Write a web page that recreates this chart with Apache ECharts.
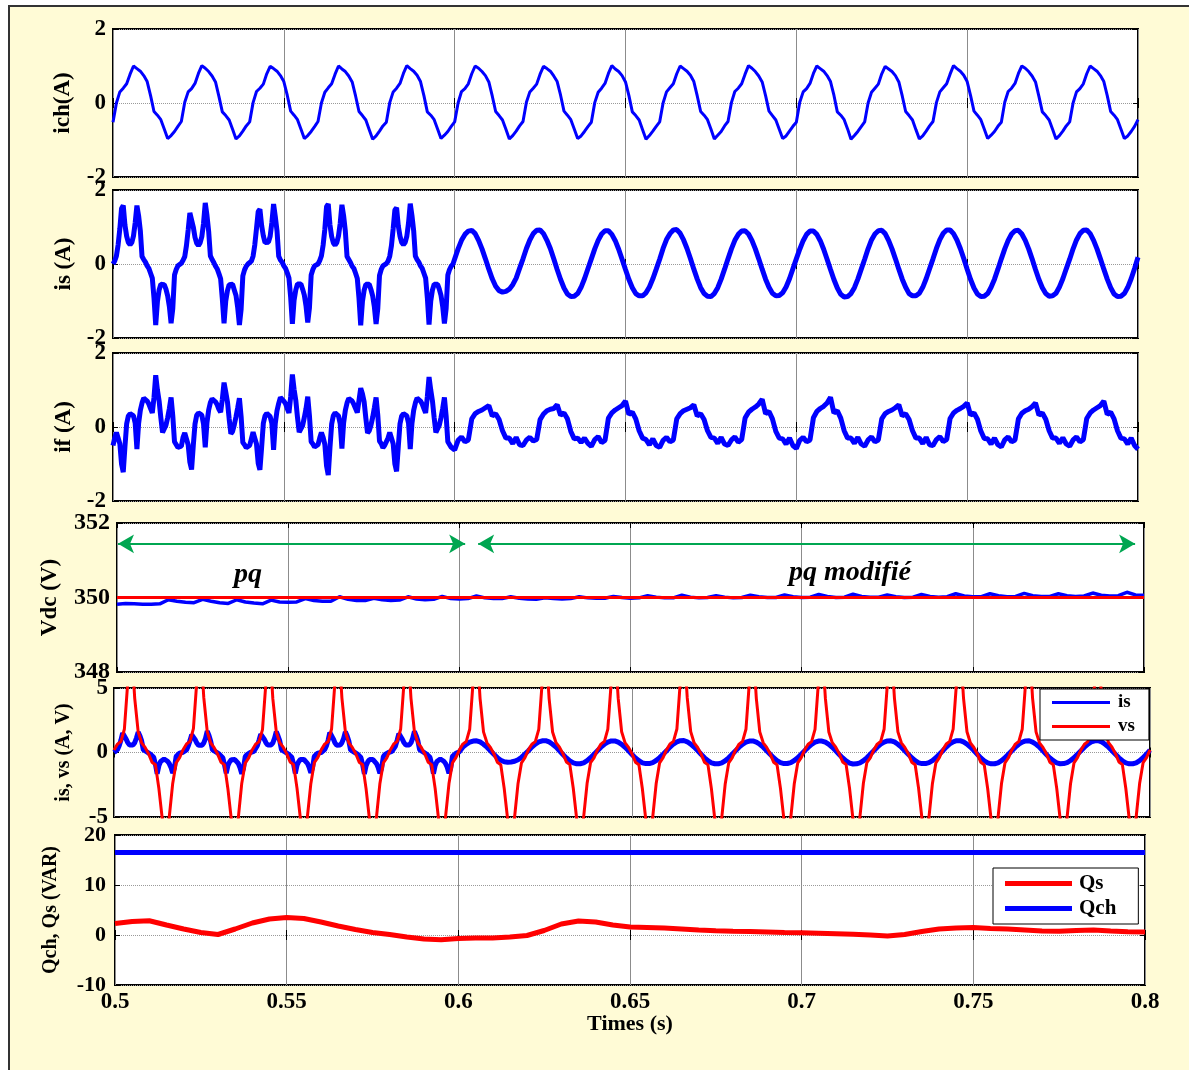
<!DOCTYPE html>
<html>
<head>
<meta charset="utf-8">
<script src="https://cdn.jsdelivr.net/npm/echarts@6/dist/echarts.min.js"></script>
<style>
html,body{margin:0;padding:0;background:#fff;overflow:hidden;width:1189px;height:1070px;}
#frame{position:absolute;left:8px;top:5px;width:1220px;height:1120px;background:#FFFBD6;border:2px solid #333;box-sizing:border-box;}
#chart{position:absolute;left:0;top:0;width:1189px;height:1070px;}
</style>
</head>
<body>
<div id="frame"></div>
<div id="chart"></div>
<script>
// ---------------- DATA ----------------
const timeTicks = [0.5, 0.55, 0.6, 0.65, 0.7, 0.75, 0.8];
const ticksIch = [-2, 0, 2];
const ticksIs = [-2, 0, 2];
const ticksIf = [-2, 0, 2];
const ticksVdc = [348, 350, 352];
const ticksIsVs = [-5, 0, 5];
const ticksQ = [-10, 0, 10, 20];

// load current ich, t = 0.5 .. 0.8 step 0.001
const ich = [
-0.52,0.00,0.30,0.40,0.52,0.78,1.00,0.93,0.86,0.74,0.58,0.20,-0.23,-0.33,-0.45,-0.70,-0.96,-0.88,-0.77,-0.63,
-0.50,0.02,0.30,0.39,0.53,0.80,1.01,0.94,0.85,0.73,0.57,0.18,-0.24,-0.34,-0.46,-0.71,-0.97,-0.89,-0.76,-0.62,
-0.51,0.01,0.31,0.40,0.51,0.79,0.99,0.93,0.86,0.74,0.58,0.21,-0.22,-0.33,-0.45,-0.70,-0.96,-0.88,-0.77,-0.64,
-0.50,0.00,0.29,0.41,0.52,0.78,1.00,0.92,0.85,0.73,0.57,0.19,-0.23,-0.34,-0.46,-0.72,-0.98,-0.89,-0.76,-0.62,
-0.52,0.01,0.30,0.40,0.53,0.80,1.01,0.93,0.86,0.75,0.58,0.20,-0.24,-0.33,-0.45,-0.70,-0.96,-0.87,-0.77,-0.63,
-0.51,0.00,0.31,0.39,0.52,0.79,1.00,0.94,0.85,0.74,0.57,0.19,-0.23,-0.34,-0.46,-0.71,-0.97,-0.88,-0.76,-0.62,
-0.50,0.02,0.30,0.40,0.51,0.78,0.99,0.93,0.86,0.73,0.58,0.21,-0.22,-0.33,-0.45,-0.70,-0.96,-0.89,-0.77,-0.64,
-0.52,0.01,0.29,0.40,0.53,0.80,1.01,0.92,0.85,0.74,0.57,0.20,-0.24,-0.34,-0.46,-0.72,-0.98,-0.88,-0.76,-0.63,
-0.51,0.00,0.30,0.41,0.52,0.79,1.00,0.93,0.86,0.75,0.58,0.19,-0.23,-0.33,-0.45,-0.70,-0.97,-0.87,-0.77,-0.62,
-0.50,0.01,0.31,0.40,0.52,0.78,1.01,0.94,0.85,0.73,0.57,0.20,-0.22,-0.34,-0.46,-0.71,-0.96,-0.89,-0.76,-0.63,
-0.52,0.02,0.30,0.39,0.53,0.80,1.00,0.93,0.86,0.74,0.58,0.21,-0.24,-0.33,-0.45,-0.70,-0.98,-0.88,-0.77,-0.64,
-0.51,0.00,0.29,0.40,0.51,0.79,0.99,0.92,0.85,0.74,0.57,0.19,-0.23,-0.34,-0.46,-0.72,-0.97,-0.89,-0.76,-0.62,
-0.50,0.01,0.30,0.41,0.52,0.78,1.01,0.93,0.86,0.75,0.58,0.20,-0.22,-0.33,-0.45,-0.70,-0.96,-0.87,-0.77,-0.63,
-0.52,0.02,0.31,0.40,0.53,0.80,1.00,0.94,0.85,0.73,0.57,0.18,-0.24,-0.34,-0.46,-0.71,-0.97,-0.88,-0.76,-0.62,
-0.51,0.00,0.30,0.39,0.52,0.79,1.00,0.93,0.86,0.74,0.58,0.20,-0.23,-0.33,-0.45,-0.70,-0.96,-0.89,-0.77,-0.63,
-0.45];

// source current is, "pq" part, t = 0.5 .. 0.6 step 0.0005
const isPq = [
0.00,0.08,0.22,0.52,0.95,1.50,1.58,1.05,0.75,0.58,0.52,0.58,0.76,1.12,1.58,1.30,0.90,0.20,0.12,0.05,
-0.05,-0.12,-0.25,-0.38,-0.92,-1.65,-1.02,-0.70,-0.55,-0.50,-0.56,-0.68,-0.86,-1.15,-1.60,-1.20,-0.30,-0.15,-0.05,0.00,
0.02,0.10,0.20,0.50,0.92,1.38,1.42,1.00,0.72,0.56,0.50,0.57,0.74,1.10,1.65,1.32,0.88,0.22,0.12,0.04,
-0.06,-0.13,-0.26,-0.40,-0.95,-1.60,-1.00,-0.72,-0.56,-0.52,-0.55,-0.70,-0.85,-1.18,-1.65,-1.22,-0.32,-0.16,-0.06,0.00,
0.01,0.08,0.21,0.52,0.96,1.42,1.48,1.04,0.76,0.58,0.53,0.59,0.75,1.12,1.62,1.28,0.90,0.21,0.11,0.05,
-0.05,-0.12,-0.24,-0.38,-0.90,-1.62,-0.98,-0.70,-0.54,-0.50,-0.54,-0.68,-0.84,-1.14,-1.58,-1.18,-0.30,-0.15,-0.05,-0.01,
0.00,0.09,0.22,0.51,0.94,1.55,1.62,1.06,0.74,0.57,0.51,0.58,0.76,1.10,1.60,1.30,0.89,0.20,0.12,0.04,
-0.06,-0.12,-0.25,-0.39,-0.93,-1.66,-1.02,-0.71,-0.55,-0.51,-0.55,-0.69,-0.86,-1.16,-1.62,-1.20,-0.31,-0.15,-0.05,0.00,
0.01,0.08,0.21,0.50,0.95,1.46,1.52,1.03,0.75,0.58,0.52,0.58,0.75,1.11,1.63,1.31,0.90,0.21,0.12,0.05,
-0.05,-0.12,-0.25,-0.38,-0.91,-1.64,-1.00,-0.70,-0.55,-0.50,-0.55,-0.68,-0.85,-1.15,-1.61,-1.21,-0.30,-0.15,-0.06,0.00,
0.05];

// source current is, "pq modifié" part, t = 0.601 .. 0.8 step 0.001
const isPqm = [
0.41,0.64,0.80,0.89,0.91,0.82,0.64,0.41,0.14,-0.14,-0.40,-0.60,-0.72,-0.76,-0.74,-0.68,-0.56,-0.38,-0.12,0.14,
0.42,0.65,0.82,0.91,0.92,0.82,0.64,0.42,0.14,-0.15,-0.42,-0.65,-0.81,-0.88,-0.87,-0.80,-0.63,-0.40,-0.13,0.14,
0.41,0.64,0.81,0.90,0.90,0.80,0.63,0.40,0.13,-0.15,-0.42,-0.64,-0.80,-0.86,-0.86,-0.78,-0.62,-0.40,-0.14,0.13,
0.42,0.66,0.82,0.92,0.93,0.83,0.65,0.42,0.15,-0.14,-0.41,-0.64,-0.80,-0.87,-0.88,-0.80,-0.64,-0.41,-0.14,0.14,
0.41,0.64,0.80,0.89,0.90,0.81,0.64,0.41,0.14,-0.14,-0.41,-0.63,-0.79,-0.86,-0.85,-0.78,-0.62,-0.40,-0.13,0.14,
0.40,0.63,0.80,0.89,0.89,0.80,0.63,0.40,0.13,-0.15,-0.42,-0.65,-0.82,-0.89,-0.88,-0.80,-0.64,-0.41,-0.14,0.13,
0.41,0.65,0.81,0.90,0.91,0.82,0.64,0.41,0.14,-0.14,-0.41,-0.63,-0.80,-0.86,-0.86,-0.79,-0.63,-0.40,-0.13,0.14,
0.42,0.66,0.83,0.92,0.92,0.82,0.65,0.42,0.15,-0.14,-0.42,-0.65,-0.81,-0.88,-0.87,-0.80,-0.63,-0.41,-0.14,0.14,
0.41,0.64,0.81,0.90,0.91,0.81,0.64,0.41,0.14,-0.15,-0.42,-0.64,-0.80,-0.87,-0.86,-0.79,-0.62,-0.40,-0.13,0.13,
0.41,0.65,0.82,0.91,0.92,0.82,0.64,0.41,0.14,-0.14,-0.41,-0.64,-0.81,-0.88,-0.87,-0.80,-0.63,-0.40,-0.12,0.18];

// filter current if, "pq" part, t = 0.5 .. 0.6 step 0.0005
const ifPq = [
-0.50,-0.30,-0.15,-0.30,-0.45,-1.00,-1.22,-0.53,0.09,0.30,0.36,0.40,0.30,0.10,-0.60,0.10,0.45,0.65,0.78,0.75,
0.70,0.62,0.50,0.38,0.80,1.40,1.00,0.70,0.25,-0.15,-0.10,0.05,0.25,0.50,0.80,0.30,-0.40,-0.45,-0.55,-0.50,
-0.52,-0.28,-0.16,-0.32,-0.48,-0.95,-1.15,-0.50,0.08,0.32,0.38,0.42,0.32,0.08,-0.55,0.12,0.46,0.66,0.76,0.74,
0.68,0.60,0.48,0.40,0.75,1.20,0.95,0.68,0.22,-0.18,-0.12,0.06,0.28,0.52,0.78,0.28,-0.42,-0.48,-0.56,-0.52,
-0.50,-0.32,-0.14,-0.30,-0.46,-0.98,-1.16,-0.55,0.10,0.30,0.37,0.40,0.28,0.10,-0.62,0.10,0.44,0.64,0.80,0.76,
0.70,0.63,0.50,0.38,0.82,1.42,1.02,0.72,0.26,-0.14,-0.10,0.04,0.26,0.50,0.82,0.30,-0.40,-0.46,-0.54,-0.50,
-0.48,-0.30,-0.15,-0.28,-0.47,-1.05,-1.30,-0.56,0.08,0.31,0.38,0.41,0.30,0.09,-0.58,0.11,0.45,0.65,0.77,0.75,
0.70,0.61,0.50,0.39,0.72,1.05,0.90,0.68,0.24,-0.16,-0.10,0.05,0.26,0.52,0.80,0.32,-0.38,-0.45,-0.56,-0.50,
-0.50,-0.30,-0.15,-0.30,-0.45,-1.00,-1.20,-0.53,0.09,0.30,0.36,0.40,0.30,0.10,-0.60,0.10,0.45,0.65,0.78,0.75,
0.70,0.62,0.50,0.38,0.82,1.35,1.00,0.70,0.25,-0.15,-0.10,0.05,0.25,0.50,0.80,0.30,-0.40,-0.45,-0.55,-0.52,
-0.62];

// filter current if, "pq modifié" part, t = 0.601 .. 0.8 step 0.001
const ifPqm = [
-0.36,-0.27,-0.40,-0.35,0.22,0.36,0.42,0.46,0.52,0.58,0.30,0.36,0.20,-0.10,-0.30,-0.30,-0.45,-0.28,-0.48,-0.50,
-0.35,-0.28,-0.38,-0.34,0.20,0.35,0.44,0.48,0.50,0.60,0.32,0.38,0.22,-0.12,-0.32,-0.30,-0.42,-0.30,-0.44,-0.52,
-0.34,-0.26,-0.42,-0.36,0.24,0.38,0.46,0.52,0.58,0.70,0.34,0.40,0.22,-0.10,-0.30,-0.34,-0.48,-0.32,-0.50,-0.55,
-0.36,-0.28,-0.40,-0.35,0.22,0.36,0.44,0.48,0.52,0.60,0.30,0.36,0.20,-0.10,-0.28,-0.30,-0.44,-0.28,-0.46,-0.50,
-0.35,-0.27,-0.41,-0.34,0.24,0.40,0.48,0.54,0.62,0.75,0.36,0.42,0.22,-0.12,-0.30,-0.32,-0.46,-0.30,-0.50,-0.58,
-0.36,-0.28,-0.40,-0.35,0.25,0.42,0.50,0.56,0.65,0.80,0.38,0.44,0.24,-0.10,-0.30,-0.30,-0.44,-0.28,-0.46,-0.52,
-0.35,-0.27,-0.40,-0.35,0.22,0.36,0.42,0.46,0.52,0.60,0.30,0.36,0.20,-0.10,-0.30,-0.30,-0.45,-0.28,-0.48,-0.50,
-0.34,-0.26,-0.39,-0.34,0.23,0.38,0.45,0.50,0.56,0.65,0.32,0.38,0.21,-0.11,-0.31,-0.32,-0.46,-0.30,-0.48,-0.54,
-0.35,-0.27,-0.40,-0.35,0.22,0.37,0.44,0.48,0.55,0.65,0.32,0.38,0.21,-0.10,-0.30,-0.30,-0.44,-0.29,-0.46,-0.52,
-0.35,-0.27,-0.40,-0.34,0.23,0.38,0.46,0.52,0.58,0.70,0.34,0.40,0.22,-0.10,-0.30,-0.32,-0.46,-0.30,-0.50,-0.60];

// DC bus voltage Vdc, t = 0.5 .. 0.8 step 0.0025
const vdc = [
349.82,349.84,349.83,349.82,349.82,349.83,349.94,349.90,349.87,349.86,349.95,349.90,349.86,349.84,349.94,349.88,349.85,349.83,349.93,349.88,
349.87,349.88,349.97,349.92,349.90,349.90,350.02,349.95,349.92,349.92,349.98,349.94,349.92,349.93,350.02,349.96,349.94,349.95,350.03,349.97,
349.96,349.97,350.04,349.99,349.97,349.97,350.02,349.98,349.96,349.95,349.99,349.97,349.96,349.97,350.02,349.99,349.98,349.98,350.03,350.00,
349.98,349.99,350.05,350.01,349.99,349.99,350.06,350.01,349.99,350.00,350.05,350.01,349.99,350.00,350.06,350.02,350.00,350.00,350.07,350.02,
350.00,350.01,350.08,350.03,350.00,350.01,350.09,350.03,350.01,350.01,350.07,350.02,350.00,350.01,350.08,350.03,350.01,350.02,350.10,350.04,
350.02,350.02,350.10,350.05,350.02,350.03,350.11,350.05,350.03,350.03,350.10,350.05,350.03,350.04,350.12,350.06,350.04,350.05,350.14,350.07,
350.06];
// Vdc reference, t = 0.5 .. 0.8 step 0.05
const vdcRef = [350, 350, 350, 350, 350, 350, 350];

// source voltage vs (scaled), t = 0.5 .. 0.8 step 0.001
const vs = [
0.20,0.65,0.85,1.80,5.50,8.50,4.20,1.60,0.75,0.40,-0.10,-0.75,-0.95,-2.80,-5.20,-8.50,-5.00,-2.40,-0.80,-0.40,
0.22,0.66,0.86,1.85,5.60,8.60,4.25,1.62,0.74,0.38,-0.12,-0.76,-0.96,-2.85,-5.25,-8.60,-5.05,-2.38,-0.82,-0.42,
0.20,0.64,0.84,1.78,5.45,8.50,4.15,1.58,0.76,0.41,-0.09,-0.74,-0.94,-2.78,-5.18,-8.45,-4.98,-2.42,-0.79,-0.40,
0.21,0.65,0.85,1.82,5.52,8.55,4.22,1.61,0.75,0.40,-0.10,-0.75,-0.95,-2.82,-5.22,-8.52,-5.02,-2.40,-0.80,-0.41,
0.20,0.66,0.86,1.80,5.50,8.50,4.20,1.60,0.74,0.39,-0.11,-0.76,-0.96,-2.80,-5.20,-8.50,-5.00,-2.41,-0.81,-0.40,
0.19,0.65,0.85,1.80,5.55,8.55,4.20,1.60,0.75,0.40,-0.10,-0.75,-0.95,-2.80,-5.20,-8.55,-5.00,-2.40,-0.80,-0.40,
0.21,0.64,0.84,1.79,5.48,8.48,4.18,1.59,0.76,0.41,-0.09,-0.74,-0.94,-2.79,-5.19,-8.48,-4.99,-2.39,-0.79,-0.41,
0.20,0.65,0.85,1.81,5.51,8.52,4.21,1.61,0.75,0.40,-0.10,-0.75,-0.95,-2.81,-5.21,-8.51,-5.01,-2.41,-0.80,-0.40,
0.22,0.66,0.86,1.82,5.53,8.53,4.23,1.62,0.74,0.39,-0.11,-0.76,-0.96,-2.82,-5.22,-8.53,-5.03,-2.42,-0.81,-0.42,
0.20,0.65,0.85,1.80,5.50,8.50,4.20,1.60,0.75,0.40,-0.10,-0.75,-0.95,-2.80,-5.20,-8.50,-5.00,-2.40,-0.80,-0.40,
0.21,0.64,0.84,1.79,5.49,8.49,4.19,1.59,0.76,0.41,-0.09,-0.74,-0.94,-2.79,-5.19,-8.49,-4.99,-2.39,-0.79,-0.41,
0.20,0.65,0.85,1.80,5.50,8.50,4.20,1.60,0.75,0.40,-0.10,-0.75,-0.95,-2.80,-5.20,-8.50,-5.00,-2.40,-0.80,-0.40,
0.21,0.66,0.86,1.81,5.52,8.52,4.22,1.61,0.74,0.39,-0.11,-0.76,-0.96,-2.81,-5.21,-8.52,-5.02,-2.41,-0.81,-0.41,
0.20,0.65,0.85,1.80,5.50,8.50,4.20,1.60,0.75,0.40,-0.10,-0.75,-0.95,-2.80,-5.20,-8.50,-5.00,-2.40,-0.80,-0.40,
0.20,0.64,0.84,1.79,5.48,8.48,4.18,1.59,0.76,0.41,-0.09,-0.74,-0.94,-2.79,-5.19,-8.48,-4.98,-2.39,-0.79,-0.40,
0.20];

// reactive powers, Qs: t = 0.5 .. 0.8 step 0.005 ; Qch: t = 0.5 .. 0.8 step 0.05
const qs = [
2.3,2.7,2.85,2.0,1.2,0.5,0.1,1.2,2.4,3.2,3.5,3.3,2.6,1.8,1.1,0.5,0.1,-0.4,-0.8,-0.95,
-0.7,-0.6,-0.6,-0.4,-0.1,0.9,2.2,2.8,2.6,2.0,1.6,1.5,1.4,1.2,1.0,0.85,0.75,0.7,0.6,0.5,
0.45,0.35,0.25,0.15,0.0,-0.2,0.1,0.7,1.2,1.4,1.5,1.3,1.2,1.0,0.8,0.75,0.9,1.0,0.8,0.65,
0.6];
const qch = [16.5, 16.5, 16.5, 16.5, 16.5, 16.5, 16.5];

// annotations in the Vdc panel
const arrowSpans = [[0.5003, 0.6017], [0.6055, 0.7974]];
const arrowLevel = 351.44;
const modeNames = ['pq', 'pq modifié'];
const modeTimes = [0.5383, 0.7141];
const modeLevels = [350.6, 350.66];

// ---------------- CHART ----------------
const SERIF = '"Liberation Serif","Times New Roman",serif';
const BLUE = '#0000FF', RED = '#FF0000', GREEN = '#00A651';

function pairs(t0, dt, vals) {
  return vals.map((v, k) => [+(t0 + k * dt).toFixed(6), v]);
}

const layout = [
  {left:113, top:29,  width:1025, height:148, ticks:ticksIch,  name:'ich(A)',        nameGap:38, nameSize:23, labelSize:23, labelMargin:7},
  {left:113, top:190, width:1025, height:148, ticks:ticksIs,   name:'is (A)',        nameGap:37, nameSize:23, labelSize:23, labelMargin:7},
  {left:113, top:353, width:1025, height:148, ticks:ticksIf,   name:'if (A)',        nameGap:37, nameSize:23, labelSize:23, labelMargin:7},
  {left:117, top:523, width:1027, height:149, ticks:ticksVdc,  name:'Vdc (V)',       nameGap:55, nameSize:23, labelSize:24, labelMargin:7},
  {left:114, top:688, width:1036, height:129, ticks:ticksIsVs, name:'is, vs (A, V)', nameGap:40, nameSize:20, labelSize:23, labelMargin:6},
  {left:115, top:835, width:1030, height:150, ticks:ticksQ,    name:'Qch, Qs (VAR)', nameGap:54, nameSize:20, labelSize:22, labelMargin:9}
];

const grids = [], xAxes = [], yAxes = [];
const tickStyle = {show:true, inside:true, length:5, lineStyle:{color:'#000', width:1}};
const xMin = timeTicks[0], xMax = timeTicks[timeTicks.length - 1];
const xStep = +(timeTicks[1] - timeTicks[0]).toFixed(6);

layout.forEach((L, i) => {
  const last = i === layout.length - 1;
  const yMin = L.ticks[0], yMax = L.ticks[L.ticks.length - 1], yStep = L.ticks[1] - L.ticks[0];
  grids.push({left:L.left, top:L.top, width:L.width, height:L.height, show:true,
    backgroundColor:'#fff', borderColor:'#000', borderWidth:2, containLabel:false, outerBoundsMode:'none'});
  xAxes.push({type:'value', gridIndex:i, position:'bottom', min:xMin, max:xMax, interval:xStep,
    axisLine:{show:false}, axisTick:tickStyle,
    axisLabel:{show:last, margin:6, fontFamily:SERIF, fontWeight:'bold', fontSize:23, color:'#000'},
    splitLine:{show:true, lineStyle:{color:'#8c8c8c', width:1}},
    name: last ? 'Times (s)' : '', nameLocation:'middle', nameGap:28, nameMoveOverlap:false,
    nameTextStyle:{fontFamily:SERIF, fontWeight:'bold', fontSize:22, color:'#000'}});
  xAxes.push({type:'value', gridIndex:i, position:'top', min:xMin, max:xMax, interval:xStep,
    axisLine:{show:false}, axisTick:tickStyle, axisLabel:{show:false}, splitLine:{show:false}});
  yAxes.push({type:'value', gridIndex:i, position:'left', min:yMin, max:yMax, interval:yStep,
    axisLine:{show:false}, axisTick:tickStyle,
    axisLabel:{margin:L.labelMargin, fontFamily:SERIF, fontWeight:'bold', fontSize:L.labelSize, color:'#000'},
    splitLine:{show:true, lineStyle:{color:'#9a9a9a', type:'dotted', width:1}},
    name:L.name, nameLocation:'middle', nameGap:L.nameGap, nameMoveOverlap:false,
    nameTextStyle:{fontFamily:SERIF, fontWeight:'bold', fontSize:L.nameSize, color:'#000'}});
  yAxes.push({type:'value', gridIndex:i, position:'right', min:yMin, max:yMax, interval:yStep,
    axisLine:{show:false}, axisTick:tickStyle, axisLabel:{show:false}, splitLine:{show:false}});
});

function lineSeries(name, panel, data, color, width, extra) {
  return Object.assign({
    name, type:'line', xAxisIndex:panel * 2, yAxisIndex:panel * 2, data,
    showSymbol:false, symbol:'none', clip:true, animation:false,
    lineStyle:{color, width}, itemStyle:{color}, emphasis:{disabled:true}
  }, extra || {});
}

const isData = pairs(0.5, 0.0005, isPq).concat(pairs(0.601, 0.001, isPqm));
const ifData = pairs(0.5, 0.0005, ifPq).concat(pairs(0.601, 0.001, ifPqm));

const series = [
  lineSeries('ich', 0, pairs(0.5, 0.001, ich), BLUE, 3),
  lineSeries('is (A)', 1, isData, BLUE, 5),
  lineSeries('if (A)', 2, ifData, BLUE, 5),
  lineSeries('Vdc', 3, pairs(0.5, 0.0025, vdc), BLUE, 3.5),
  lineSeries('Vdc ref', 3, pairs(0.5, 0.05, vdcRef), RED, 3, {
    markLine:{silent:true, animation:false, symbol:['arrow', 'arrow'], symbolSize:[14, 16],
      lineStyle:{color:GREEN, width:2, type:'solid'}, label:{show:false},
      emphasis:{disabled:true},
      data: arrowSpans.map(s => [{coord:[s[0], arrowLevel]}, {coord:[s[1], arrowLevel]}])},
    markPoint:{silent:true, animation:false, symbol:'circle', symbolSize:1,
      itemStyle:{color:'rgba(0,0,0,0)'},
      label:{show:true, position:'inside', formatter:p => p.name, fontFamily:SERIF,
        fontStyle:'italic', fontWeight:'bold', fontSize:28, color:'#000'},
      data: modeNames.map((n, k) => ({name:n, coord:[modeTimes[k], modeLevels[k]]}))}
  }),
  lineSeries('is', 4, isData, BLUE, 5),
  lineSeries('vs', 4, pairs(0.5, 0.001, vs), RED, 3),
  lineSeries('Qs', 5, pairs(0.5, 0.005, qs), RED, 5),
  lineSeries('Qch', 5, pairs(0.5, 0.05, qch), BLUE, 5)
];

const legendText = {fontFamily:SERIF, fontWeight:'bold', color:'#000'};
const option = {
  animation:false,
  backgroundColor:'transparent',
  textStyle:{fontFamily:SERIF},
  grid:grids, xAxis:xAxes, yAxis:yAxes, series,
  legend:[
    {data:['is', 'vs'], orient:'vertical', left:1040, top:689, padding:[4, 14, 4, 12],
     itemWidth:58, itemHeight:3, itemGap:5, icon:'rect', selectedMode:false,
     backgroundColor:'#fff', borderColor:'#000', borderWidth:1, borderRadius:0,
     textStyle:Object.assign({fontSize:19, padding:[0, 0, 0, 3]}, legendText)},
    {data:['Qs', 'Qch'], orient:'vertical', left:993, top:868, padding:[5, 22, 5, 12],
     itemWidth:67, itemHeight:5, itemGap:4, icon:'rect', selectedMode:false,
     backgroundColor:'#fff', borderColor:'#000', borderWidth:1, borderRadius:0,
     textStyle:Object.assign({fontSize:21, padding:[0, 0, 0, 2]}, legendText)}
  ]
};

const chart = echarts.init(document.getElementById('chart'), null, {renderer:'canvas'});
chart.setOption(option);
</script>
</body>
</html>
